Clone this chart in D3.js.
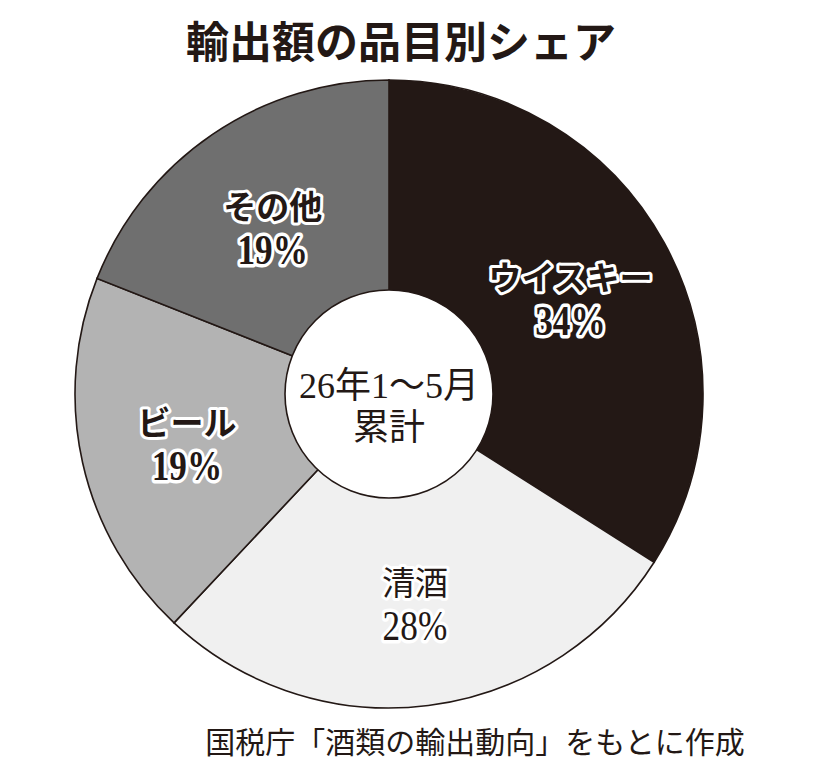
<!DOCTYPE html>
<html>
<head>
<meta charset="utf-8">
<script src="https://cdn.jsdelivr.net/npm/d3@7"></script>
<style>
  body { margin: 0; background: #fff; }
  svg { display: block; }
  .title { font-family: "Noto Sans CJK JP", sans-serif; font-weight: bold; font-size: 43px; fill: #231815; }
  .label { font-family: "Liberation Serif", "Noto Sans CJK JP", serif; fill: #231815;
           stroke: #fff; stroke-width: 6px; stroke-linejoin: round; paint-order: stroke; }
  .center-text { font-family: "Liberation Serif", "Noto Sans CJK JP", serif; font-size: 36px; fill: #231815; }
  .source { font-family: "Liberation Serif", "Noto Sans CJK JP", serif; font-size: 30px; fill: #231815; }
</style>
</head>
<body>
<svg id="chart" width="820" height="776"></svg>
<script>
// data
const categories = ["ウイスキー", "清酒", "ビール", "その他"];
const shares = [34, 28, 19, 19];
const sliceColors = ["#231815", "#f0f0f0", "#b3b3b3", "#6f6f6f"];
const boldLabel = [true, false, true, true];
const chartTitle = "輸出額の品目別シェア";
const centerLines = ["26年1～5月", "累計"];
const sourceNote = "国税庁「酒類の輸出動向」をもとに作成";

const svg = d3.select('#chart');
const cx = 389, cy = 394;
const outerR = 314, innerR = 104;

svg.append('text')
    .attr('class', 'title')
    .attr('x', 401)
    .attr('y', 58)
    .attr('text-anchor', 'middle')
    .text(chartTitle);

const slices = categories.map((c, i) => ({ name: c, value: shares[i], color: sliceColors[i], bold: boldLabel[i] }));

const pie = d3.pie()
    .value(d => d.value)
    .sort(null);

const arc = d3.arc()
    .innerRadius(0)
    .outerRadius(outerR);

const labelArc = d3.arc()
    .innerRadius(207)
    .outerRadius(207);

const g = svg.append('g')
    .attr('transform', 'translate(' + cx + ',' + cy + ')');

const arcs = pie(slices);

g.selectAll('path')
    .data(arcs)
    .enter()
    .append('path')
    .attr('d', arc)
    .attr('fill', d => d.data.color)
    .attr('stroke', '#231815')
    .attr('stroke-width', 1.6);

// hole in the middle
g.append('circle')
    .attr('r', innerR)
    .attr('fill', '#fff')
    .attr('stroke', '#231815')
    .attr('stroke-width', 1.6);

// slice labels: name on first line, share on second
const labels = g.selectAll('.slice-label')
    .data(arcs)
    .enter()
    .append('g')
    .attr('class', 'slice-label')
    .attr('transform', d => {
        const c = labelArc.centroid(d);
        return 'translate(' + c[0] + ',' + c[1] + ')';
    });

labels.append('text')
    .attr('class', 'label')
    .attr('text-anchor', 'middle')
    .attr('y', -4)
    .style('font-size', '33px')
    .style('font-weight', d => d.data.bold ? 'bold' : 'normal')
    .text(d => d.data.name);

// percentages are set taller and narrower, like the printed figures
labels.append('text')
    .attr('class', 'label')
    .attr('text-anchor', 'middle')
    .attr('transform', 'translate(0,41) scale(0.84,1)')
    .style('font-size', '42px')
    .style('stroke-width', '7px')
    .style('font-weight', d => d.data.bold ? 'bold' : 'normal')
    .text(d => d.data.value + '%');

g.append('text')
    .attr('class', 'center-text')
    .attr('text-anchor', 'middle')
    .attr('y', 4)
    .text(centerLines[0]);

g.append('text')
    .attr('class', 'center-text')
    .attr('text-anchor', 'middle')
    .attr('y', 46)
    .text(centerLines[1]);

svg.append('text')
    .attr('class', 'source')
    .attr('x', 475)
    .attr('y', 753)
    .attr('text-anchor', 'middle')
    .text(sourceNote);
</script>
</body>
</html>
